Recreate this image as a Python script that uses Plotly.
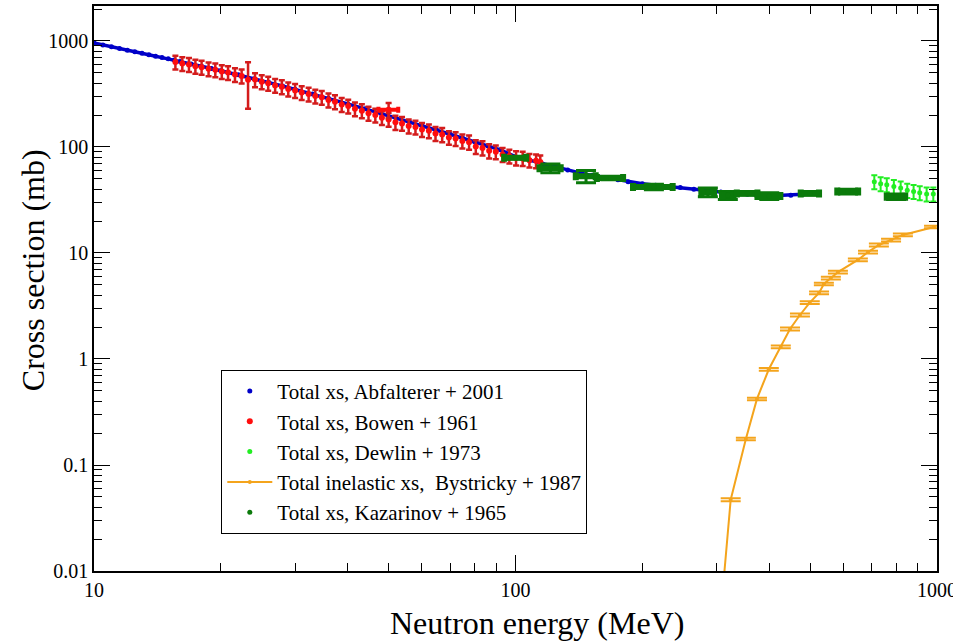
import plotly.graph_objects as go

# ---------------- data ----------------
# Abfalterer + 2001 (total xs)
abf_e = [10, 10.5, 11, 11.5, 12, 12.5, 13, 13.5, 14, 14.5, 15, 15.5, 16, 17, 18, 19, 20,
         22, 24, 26, 28, 30, 33, 36, 40, 44, 48, 52, 56, 60, 65, 70, 75, 80, 86, 92, 100,
         108, 116, 125, 133, 142, 152, 163, 175, 185, 200, 215, 230, 246, 265, 285, 307,
         330, 355, 385, 419, 450, 480, 505, 525]
abf_xs = [960, 918, 882, 848, 818, 790, 765, 740, 718, 697, 678, 660, 642, 608, 578, 550, 524,
          480, 440, 405, 376, 350, 316, 288, 255, 229, 207, 189, 173, 159, 145, 132, 121,
          112, 102, 94, 81, 75, 69, 64.5, 60.5, 57, 54, 51.5, 49, 47, 45, 43.5, 42.5, 41.5,
          40, 38.8, 37.6, 36.6, 35.8, 35.2, 34.8, 35.1, 35.8, 36.4, 36.8]

# Bowen + 1961 (total xs)
bow_e = [15.6, 16.2, 16.8, 17.4, 18.0, 18.7, 19.4, 20.1, 20.8, 21.6, 22.4, 23.2, 24.1, 25.0,
         25.9, 26.9, 27.9, 28.9, 30.0, 31.1, 32.3, 33.5, 34.7, 36.0, 37.3, 38.7, 40.1, 41.6,
         43.2, 44.8, 46.5, 48.2, 50.0, 51.9, 53.8, 55.8, 57.9, 60.0, 62.3, 64.6, 67.0, 69.5,
         72.1, 74.8, 77.6, 80.5, 83.5, 86.6, 89.8, 93.2, 96.7, 100.3, 104.0, 107.9, 111.9, 114.5]
bow_xs = [632, 612, 600, 578, 566, 546, 534, 514, 503, 482, 467, 430, 432, 412, 400, 381, 370,
          352, 341, 326, 316, 302, 294, 278, 267, 252, 243, 229, 220, 208, 200, 189, 182, 171,
          167, 158, 154, 146, 142, 134, 131, 123, 120, 114, 111, 101, 98, 92, 90, 85, 82, 79,
          78, 75, 74, 72]
bow_err = [95, 92, 90, 87, 85, 82, 80, 77, 75, 72, 70, 200, 65, 62, 60, 57, 55,
           53, 51, 49, 47, 45, 44, 42, 40, 38, 36, 34, 33, 31, 30, 28, 27, 26,
           25, 24, 23, 22, 21, 20, 20, 18, 18, 17, 17, 15, 15, 14, 13.5, 13, 12, 12,
           12, 11, 11, 11]
# extra Bowen point with energy bin
bow2_e = [50.0]
bow2_xs = [224]
bow2_xerr = [2.7]
bow2_yerr = [36]

# Dewlin + 1973 (total xs)
dew_e = [710, 735, 760, 790, 820, 850, 880, 910, 945, 980]
dew_xs = [47, 45, 44, 42.5, 41, 39, 38, 37, 36, 36]
dew_xerr = [6, 6, 6, 6, 6, 6, 6, 6, 6, 6]
dew_err = [7, 6.8, 6.6, 6.4, 6.2, 5.9, 5.7, 5.6, 5.4, 5.4]

# Bystricky + 1987 (total inelastic xs)
bys_e = [305, 324, 352, 374, 399, 426, 448, 473, 499, 525, 539, 560, 582, 649, 686, 728, 778, 830, 984]
bys_xs = [0.003, 0.047, 0.176, 0.42, 0.80, 1.30, 1.92, 2.6, 3.4, 4.2, 5.1, 5.8, 6.6, 8.6, 10.2,
          11.9, 13.2, 14.8, 17.6]
bys_err = [0.0001, 0.0015, 0.005, 0.012, 0.024, 0.04, 0.06, 0.08, 0.1, 0.13, 0.15, 0.17, 0.2,
           0.26, 0.3, 0.36, 0.4, 0.45, 0.5]

# Kazarinov + 1965 (total xs)
kaz_e = [100, 121, 147, 168, 213, 286, 319, 355, 400, 500, 615, 800]
kaz_xs = [79, 63, 53, 51, 42, 37.5, 35, 36.5, 34.5, 36.5, 38, 34]
kaz_xerr = [6, 7, 8, 12, 23, 10, 10, 20, 25, 25, 35, 40]
kaz_yerr = [2, 6, 7, 2, 2.5, 3.5, 3, 1.5, 2.5, 1.5, 2, 2]

x_ticks = [10, 100, 1000]
x_ticktext = ["10", "100", "1000"]
x_minor = [20, 30, 40, 50, 60, 70, 80, 90, 200, 300, 400, 500, 600, 700, 800, 900]
y_ticks = [0.01, 0.1, 1, 10, 100, 1000]
y_ticktext = ["0.01", "0.1", "1", "10", "100", "1000"]
y_minor = [0.02, 0.03, 0.04, 0.05, 0.06, 0.07, 0.08, 0.09,
           0.2, 0.3, 0.4, 0.5, 0.6, 0.7, 0.8, 0.9,
           2, 3, 4, 5, 6, 7, 8, 9,
           20, 30, 40, 50, 60, 70, 80, 90,
           200, 300, 400, 500, 600, 700, 800, 900,
           2000]
x_title = "Neutron energy (MeV)"
y_title = "Cross section (mb)"

# ---------------- styles ----------------
BLUE = "#0000c8"
RED = "#ff0d0d"
RED_ERR = "#d41c1c"
LGREEN = "#22ee22"
DGREEN = "#0b7a0b"
ORANGE = "#f4a41c"
SERIF = "Liberation Serif"

fig = go.Figure()

# Abfalterer (line underlay + markers)
fig.add_trace(go.Scatter(x=abf_e, y=abf_xs, mode="lines", line=dict(color=BLUE, width=3.5),
                         showlegend=False, hoverinfo="skip"))
fig.add_trace(go.Scatter(x=abf_e, y=abf_xs, mode="markers", name="Total xs, Abfalterer + 2001",
                         marker=dict(color=BLUE, size=5)))

# Bowen
fig.add_trace(go.Scatter(x=bow_e, y=bow_xs, mode="markers", name="Total xs, Bowen + 1961",
                         marker=dict(color=RED, size=6),
                         error_y=dict(type="data", array=bow_err, color=RED_ERR, thickness=2.5, width=3)))
fig.add_trace(go.Scatter(x=bow2_e, y=bow2_xs, mode="markers", showlegend=False,
                         marker=dict(color=RED, size=6),
                         error_x=dict(type="data", array=bow2_xerr, color=RED, thickness=4, width=3),
                         error_y=dict(type="data", array=bow2_yerr, color=RED_ERR, thickness=2.5, width=3)))

# Dewlin
fig.add_trace(go.Scatter(x=dew_e, y=dew_xs, mode="markers", name="Total xs, Dewlin + 1973",
                         marker=dict(color=LGREEN, size=5),
                         error_x=dict(type="data", array=dew_xerr, color=LGREEN, thickness=3, width=0),
                         error_y=dict(type="data", array=dew_err, color=LGREEN, thickness=2, width=3)))

# Bystricky
fig.add_trace(go.Scatter(x=bys_e, y=bys_xs, mode="lines+markers",
                         name="Total inelastic xs,  Bystricky + 1987",
                         line=dict(color=ORANGE, width=2),
                         marker=dict(color=ORANGE, size=4),
                         error_y=dict(type="data", array=bys_err, color=ORANGE, thickness=2, width=10)))

# Kazarinov
fig.add_trace(go.Scatter(x=kaz_e, y=kaz_xs, mode="markers", name="Total xs, Kazarinov + 1965",
                         marker=dict(color=DGREEN, size=5),
                         error_x=dict(type="data", array=kaz_xerr, color=DGREEN, thickness=6, width=4),
                         error_y=dict(type="data", array=kaz_yerr, color=DGREEN, thickness=3, width=10)))

fig.update_layout(
    width=953, height=643,
    margin=dict(l=94, r=16, t=6, b=72, autoexpand=False),
    paper_bgcolor="white", plot_bgcolor="white",
    font=dict(family=SERIF, color="black", size=20),
    showlegend=True,
)
axis_style = dict(
    showgrid=False, zeroline=False, showline=True, linecolor="black", linewidth=1.5,
    mirror="ticks", ticks="inside", ticklen=16, tickwidth=1.3, tickcolor="black",
    tickfont=dict(family=SERIF, size=20, color="black"), ticklabeloverflow="allow",
    automargin=False,
)
fig.update_xaxes(
    type="log", range=[1, 3], tickvals=x_ticks, ticktext=x_ticktext,
    minor=dict(tickvals=x_minor, ticks="inside", ticklen=8, tickwidth=1.3,
               tickcolor="black", showgrid=False),
    **axis_style,
)
fig.update_yaxes(
    type="log", range=[-2, 3.33], tickvals=y_ticks, ticktext=y_ticktext,
    minor=dict(tickvals=y_minor, ticks="inside", ticklen=8, tickwidth=1.3,
               tickcolor="black", showgrid=False),
    **axis_style,
)
# axis titles placed as text to match the original offsets
fig.add_annotation(text=x_title, xref="paper", yref="paper", x=0.5255, y=-0.092,
                   xanchor="center", yanchor="middle", showarrow=False,
                   font=dict(family=SERIF, size=32, color="black"))
fig.add_annotation(text=y_title, xref="paper", yref="paper", x=-0.072, y=0.533,
                   xanchor="center", yanchor="middle", textangle=-90, showarrow=False,
                   font=dict(family=SERIF, size=32, color="black"))
fig.update_layout(
    legend=dict(x=0.151, y=0.356, xanchor="left", yanchor="top",
                bgcolor="white", bordercolor="black", borderwidth=1,
                font=dict(family=SERIF, size=21, color="black"),
                tracegroupgap=0, itemsizing="trace", itemwidth=45),
)

fig.write_html("out.html")
